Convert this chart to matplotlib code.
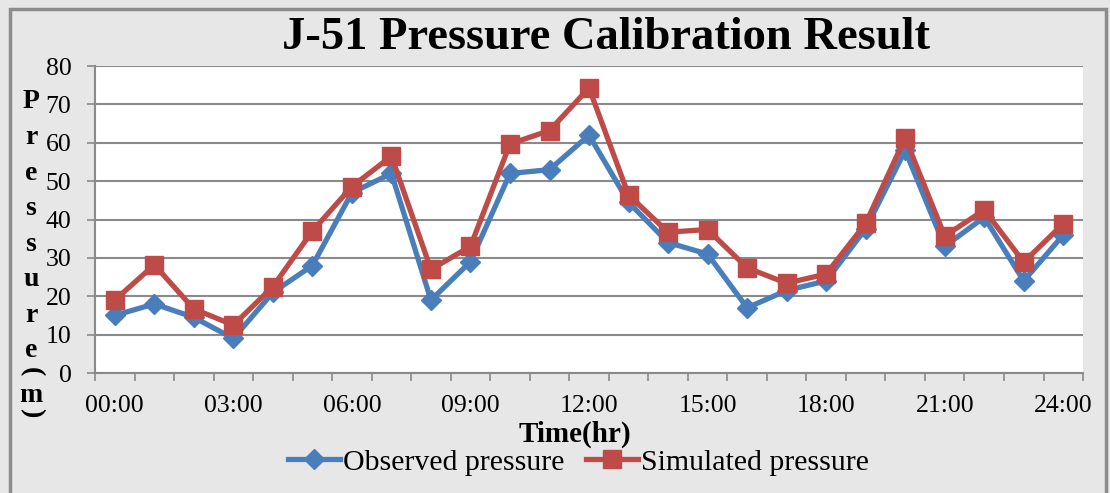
import matplotlib.pyplot as plt
import matplotlib.patches as patches

# hourly readings 00:00 .. 24:00
hours = [f"{h:02d}:00" for h in range(25)]
observed = [15, 18, 14.5, 9, 21, 28, 47, 52, 19, 29, 52, 53, 62,
            44.5, 34, 31, 17, 21.5, 24, 37.6, 58, 33, 40.6, 24, 36]
simulated = [19, 28.2, 16.7, 12.5, 22.5, 37, 48.6, 56.5, 27, 33, 59.7, 63.2, 74.3,
             46.4, 36.7, 37.4, 27.4, 23.4, 25.8, 39, 61.3, 35.7, 42.5, 28.9, 38.9]
y_ticks = [0, 10, 20, 30, 40, 50, 60, 70, 80]

serif = ['Liberation Serif', 'DejaVu Serif']
plt.rcParams['font.family'] = serif

fig = plt.figure(figsize=(11.1, 4.93), dpi=100)
fig.patch.set_facecolor('#e7e7e7')
# outer chart border
fig.patches.append(patches.Rectangle((10 / 1110, -0.02), 1096 / 1110, 1.02 - 9 / 493,
                                     transform=fig.transFigure, fill=False,
                                     edgecolor='#8c8c8c', linewidth=2.5))

ax = fig.add_axes([0.0856, 0.2434, 0.8901, 0.6226])
ax.set_facecolor('white')

x = list(range(len(hours)))
ax.plot(x, observed, color='#4a7ebb', linewidth=3.8, marker='D', markersize=10.5,
        label='Observed pressure', zorder=3)
ax.plot(x, simulated, color='#be4b48', linewidth=3.8, marker='s', markersize=13,
        label='Simulated pressure', zorder=4)

ax.set_xlim(-0.5, len(hours) - 0.5)
ax.set_ylim(0, 80)
ax.set_yticks(y_ticks)
ax.yaxis.grid(True, color='#8a8a8a', linewidth=1.5)
ax.set_axisbelow(True)

# tick marks between categories, labels every 3 hours
ax.set_xticks([i - 0.5 for i in range(len(hours) + 1)])
ax.set_xticklabels([])
ax.set_xticks(x[::3], minor=True)
ax.set_xticklabels(hours[::3], minor=True)
ax.tick_params(axis='x', which='major', direction='out', length=6, color='#8a8a8a', width=1.2)
ax.tick_params(axis='x', which='minor', length=0, pad=16, labelsize=18.5)
ax.tick_params(axis='y', direction='out', length=6, color='#8a8a8a', width=1.2, pad=11, labelsize=18.5)

for s in ['top', 'right']:
    ax.spines[s].set_visible(False)
for s in ['left', 'bottom']:
    ax.spines[s].set_color('#8a8a8a')
    ax.spines[s].set_linewidth(1.5)

fig.text(0.546, 0.922, 'J-51 Pressure Calibration Result', ha='center', va='center',
         fontsize=33.5, fontweight='bold')
fig.text(0.518, 0.12, 'Time(hr)', ha='center', va='center', fontsize=21, fontweight='bold')

# stacked y label
letters = ['P', 'r', 'e', 's', 's', 'u', 'r', 'e']
y0 = 102
for i, ch in enumerate(letters):
    fig.text(31 / 1110, 1 - (y0 + i * 35.5) / 493, ch, ha='center', va='center',
             fontsize=20, fontweight='bold')
fig.text(31 / 1110, 1 - 372 / 493, '(', ha='center', va='center', fontsize=20,
         fontweight='bold', rotation=-90)
fig.text(31 / 1110, 1 - 395 / 493, 'm', ha='center', va='center', fontsize=20, fontweight='bold')
fig.text(31 / 1110, 1 - 413 / 493, ')', ha='center', va='center', fontsize=20,
         fontweight='bold', rotation=-90)

fig.legend(loc='center', bbox_to_anchor=(0.521, 0.062), ncol=2, frameon=False,
           fontsize=21.5, handlelength=1.75, handletextpad=0.1, columnspacing=0.7)

fig.savefig('out.png', dpi=100, facecolor=fig.get_facecolor())
